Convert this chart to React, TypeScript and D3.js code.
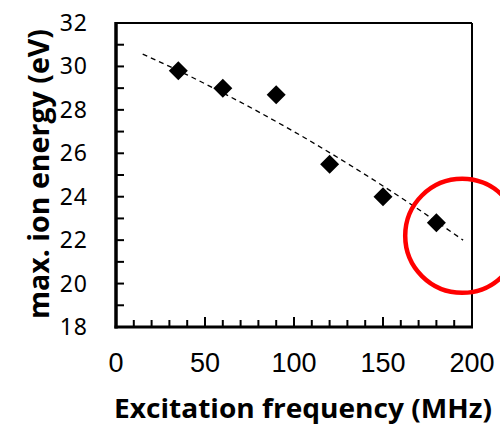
import React from "react";
import * as d3 from "d3";

// measured points
const freqs = [35, 60, 90, 120, 150, 180];
const energies = [29.8, 29.0, 28.7, 25.5, 24.0, 22.8];

// dashed trend line
const trendFreqs = [15, 40, 64, 98, 131, 165, 195];
const trendEnergies = [30.57, 29.61, 28.61, 27.09, 25.48, 23.69, 22.0];

const xTicks = [0, 50, 100, 150, 200];
const yTicks = [18, 20, 22, 24, 26, 28, 30, 32];

// red hand-drawn circle around the last point
const circleCenter = [194.5, 22.2];

const W = 500;
const H = 425;
const plot = { left: 116, right: 472, top: 23, bottom: 327 };

const App = () => {
  const x = d3.scaleLinear().domain([0, 200]).range([plot.left, plot.right]);
  const y = d3.scaleLinear().domain([18, 32]).range([plot.bottom, plot.top]);

  const points = freqs.map((f, i) => ({ f, e: energies[i] }));
  const trend = trendFreqs.map((f, i) => ({ f, e: trendEnergies[i] }));

  const line = d3
    .line<{ f: number; e: number }>()
    .x((d) => x(d.f))
    .y((d) => y(d.e))
    .curve(d3.curveMonotoneX);

  const minorX = d3.range(10, 200, 10);
  const minorY = d3.range(19, 32, 1);

  return (
    <svg
      width={W}
      height={H}
      style={{ position: "absolute", left: 0, top: 0, background: "#fff" }}
    >
      {/* frame: top and right thinner */}
      <line x1={plot.left} x2={plot.right} y1={plot.top} y2={plot.top} stroke="#000" strokeWidth={2} />
      <line x1={plot.right} x2={plot.right} y1={plot.top} y2={plot.bottom} stroke="#000" strokeWidth={2} />

      {/* ticks, pointing inside */}
      {minorX.map((t) => (
        <line
          key={"xt" + t}
          x1={x(t)}
          x2={x(t)}
          y1={plot.bottom}
          y2={plot.bottom - (t % 50 === 0 ? 10 : 7)}
          stroke="#000"
          strokeWidth={2}
        />
      ))}
      {minorY.map((t) => (
        <line
          key={"yt" + t}
          x1={plot.left}
          x2={plot.left + 8}
          y1={y(t)}
          y2={y(t)}
          stroke="#000"
          strokeWidth={2}
        />
      ))}

      {/* main axes, thick */}
      <line x1={plot.left} x2={plot.left} y1={plot.top - 1} y2={plot.bottom + 1.5} stroke="#000" strokeWidth={3.5} />
      <line x1={plot.left - 1.5} x2={plot.right + 1} y1={plot.bottom} y2={plot.bottom} stroke="#000" strokeWidth={3} />

      {/* tick labels */}
      {xTicks.map((t) => (
        <text
          key={"xl" + t}
          x={x(t)}
          y={372}
          textAnchor="middle"
          fontFamily="Liberation Sans, Arial, sans-serif"
          fontSize={27}
          fill="#000"
        >
          {t}
        </text>
      ))}
      {yTicks.map((t) => (
        <text
          key={"yl" + t}
          x={88}
          y={y(t) + 8}
          textAnchor="end"
          fontFamily="Noto Sans, sans-serif"
          fontSize={23}
          letterSpacing={1}
          fill="#000"
        >
          {t}
        </text>
      ))}

      {/* trend line */}
      <path d={line(trend) ?? ""} fill="none" stroke="#000" strokeWidth={1.3} strokeDasharray="5,4" />

      {/* markers */}
      {points.map((p, i) => {
        const cx = x(p.f);
        const cy = y(p.e);
        const r = 9.5;
        return (
          <path
            key={"pt" + i}
            d={`M${cx},${cy - r}L${cx + r},${cy}L${cx},${cy + r}L${cx - r},${cy}Z`}
            fill="#000"
          />
        );
      })}

      {/* red circle annotation */}
      <circle
        cx={x(circleCenter[0])}
        cy={y(circleCenter[1])}
        r={57}
        fill="none"
        stroke="#ff0000"
        strokeWidth={4.5}
      />

      {/* axis titles */}
      <text
        x={303}
        y={418}
        textAnchor="middle"
        fontFamily="Open Sans, sans-serif"
        fontWeight="bold"
        fontSize={27}
        textLength={378}
        lengthAdjust="spacingAndGlyphs"
        fill="#000"
      >
        Excitation frequency (MHz)
      </text>
      <text
        transform="translate(49,174) rotate(-90)"
        textAnchor="middle"
        fontFamily="Open Sans, sans-serif"
        fontWeight="bold"
        fontSize={28}
        textLength={290}
        lengthAdjust="spacingAndGlyphs"
        fill="#000"
      >
        max. ion energy (eV)
      </text>
    </svg>
  );
};

export default App;
